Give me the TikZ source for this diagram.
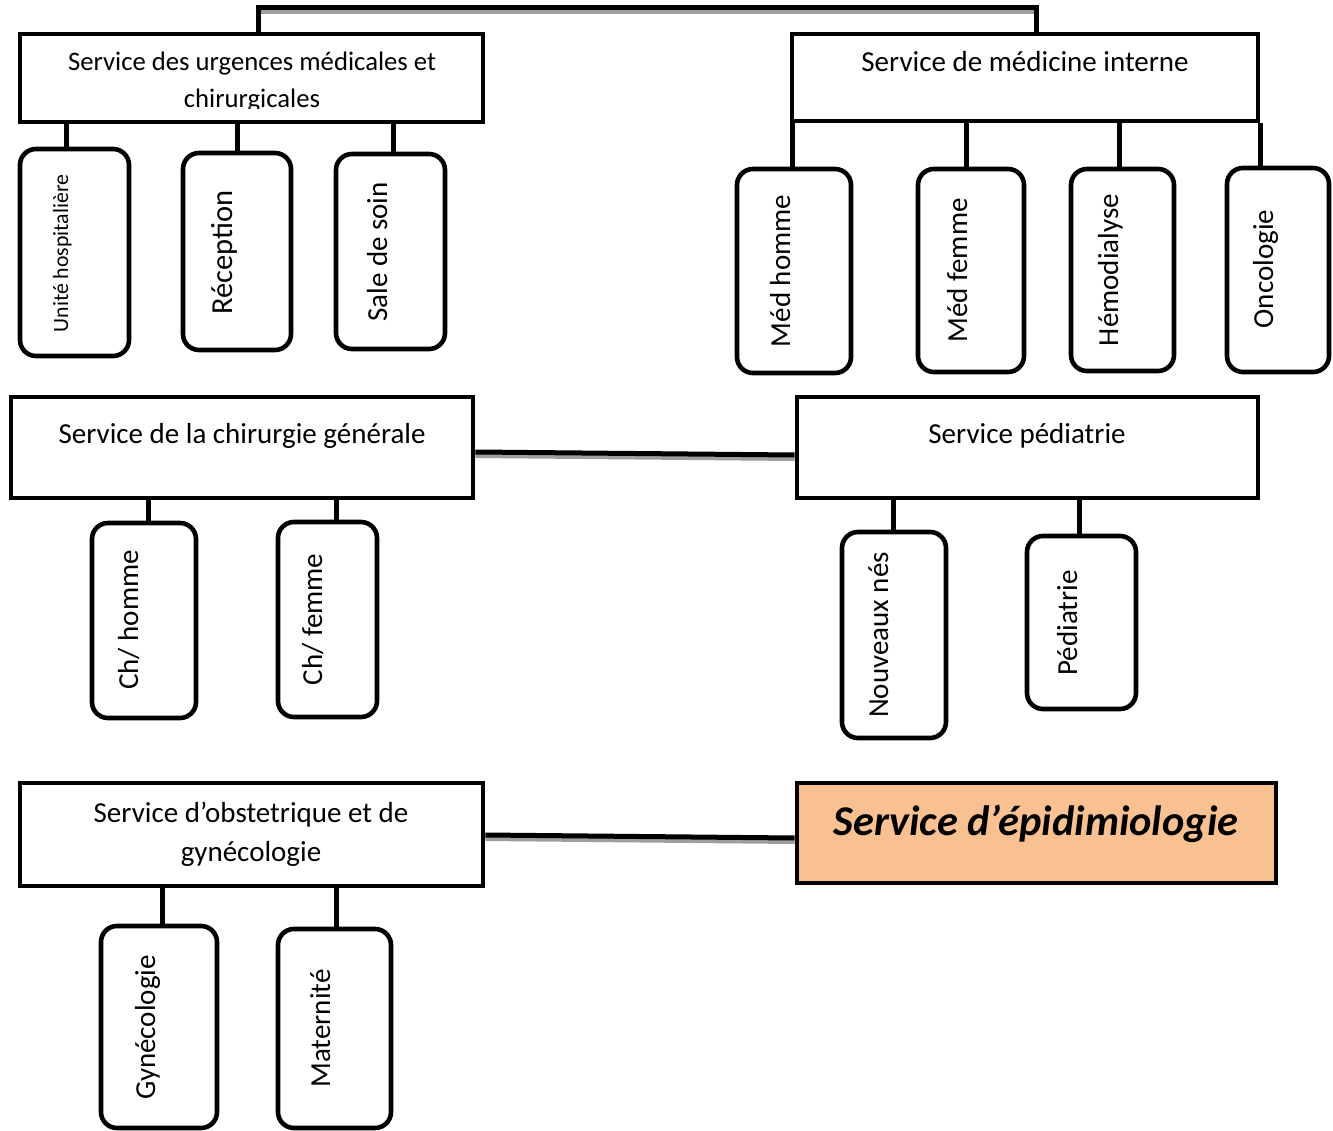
\documentclass[tikz,border=0pt]{standalone}
\usepackage{fontspec}
\setmainfont{Carlito}
\usetikzlibrary{calc}
\definecolor{peach}{RGB}{249,193,145}
\newcommand{\fsz}[1]{\fontsize{#1}{#1}\selectfont}
\begin{document}
\begin{tikzpicture}[x=1pt,y=-1pt,
  box/.style={draw=black, line width=4.6pt, rectangle, inner sep=0pt, fill=white},
  unitbox/.style={draw=black, line width=4.6pt, rectangle, rounded corners=16pt, inner sep=0pt, fill=white},
  conn/.style={line width=5pt, black},
  shadowline/.style={line width=4pt, black!38},
  title/.style={anchor=base, inner sep=0pt, font=\fsz{29}},
  vlabel/.style={anchor=base, rotate=90, inner sep=0pt, font=\fsz{29}},
]
\useasboundingbox[fill=white] (0,0) rectangle (1333,1131);

% ---- main service boxes
\node[box, minimum width=463pt, minimum height=88pt]  (A) at (251.5,78) {};
\node[box, minimum width=466pt, minimum height=87pt]  (B) at (1025,77.5) {};
\node[box, minimum width=462pt, minimum height=101pt] (C) at (242,447.5) {};
\node[box, minimum width=461pt, minimum height=101pt] (D) at (1027.5,447.5) {};
\node[box, minimum width=463pt, minimum height=103pt] (E) at (251.5,834.5) {};
\node[box, fill=peach, minimum width=479pt, minimum height=100pt] (F) at (1036.5,833) {};

% ---- titles
\node[title, font=\fsz{26.7}] (tA1) at (252,71) {Service des urgences médicales et};
\begin{scope}
  \clip (20,34) rectangle (483,109);
  \node[title, font=\fsz{26.7}] (tA2) at (252,108) {chirurgicales};
\end{scope}
\node[title] (tB) at (1025,72) {Service de médicine interne};
\node[title] (tC) at (242,443) {Service de la chirurgie générale};
\node[title] (tD) at (1027,443) {Service pédiatrie};
\node[title] (tE1) at (251,822) {Service d’obstetrique et de};
\node[title] (tE2) at (251,861) {gynécologie};
\node[title, font=\fsz{42.4}\bfseries\itshape] (tF) at (1036,835) {Service d’épidimiologie};

% ---- unit boxes
\node[unitbox, minimum width=109pt, minimum height=207pt] (a1) at (74.5,252.5) {};
\node[unitbox, minimum width=108pt, minimum height=197pt] (a2) at (237,251.5) {};
\node[unitbox, minimum width=109pt, minimum height=195pt] (a3) at (390.5,251.5) {};
\node[unitbox, minimum width=114pt, minimum height=204pt] (b1) at (794,271) {};
\node[unitbox, minimum width=106pt, minimum height=203pt] (b2) at (971,270.5) {};
\node[unitbox, minimum width=103pt, minimum height=202pt] (b3) at (1122.5,270) {};
\node[unitbox, minimum width=102pt, minimum height=204pt] (b4) at (1278,270) {};
\node[unitbox, minimum width=104pt, minimum height=195pt] (c1) at (144,620.5) {};
\node[unitbox, minimum width=99pt,  minimum height=195pt] (c2) at (327.5,619.5) {};
\node[unitbox, minimum width=104pt, minimum height=206pt] (d1) at (894,635) {};
\node[unitbox, minimum width=109pt, minimum height=173pt] (d2) at (1081.5,622.5) {};
\node[unitbox, minimum width=116pt, minimum height=202pt] (e1) at (159,1027) {};
\node[unitbox, minimum width=113pt, minimum height=199pt] (e2) at (334.5,1028.5) {};

% ---- unit labels
\node[vlabel, font=\fsz{21.8}] (la1) at (68,253.5) {Unité hospitalière};
\node[vlabel, font=\fsz{30.5}] (la2) at (232,252.5) {Réception};
\node[vlabel] (la3) at (387,252) {Sale de soin};
\node[vlabel] (lb1) at (790,271) {Méd homme};
\node[vlabel] (lb2) at (967,270.5) {Méd femme};
\node[vlabel] (lb3) at (1118,270) {Hémodialyse};
\node[vlabel] (lb4) at (1273,269) {Oncologie};
\node[vlabel] (lc1) at (138,620) {Ch/ homme};
\node[vlabel] (lc2) at (322,619.5) {Ch/ femme};
\node[vlabel] (ld1) at (888,635) {Nouveaux nés};
\node[vlabel] (ld2) at (1077,623) {Pédiatrie};
\node[vlabel] (le1) at (155,1027.5) {Gynécologie};
\node[vlabel] (le2) at (330,1028.5) {Maternité};

% ---- connector x positions
\coordinate (xa1) at (66,0);
\coordinate (xa2) at (237,0);
\coordinate (xa3) at (393,0);
\coordinate (xb1) at (792,0);
\coordinate (xb2) at (966,0);
\coordinate (xb3) at (1119,0);
\coordinate (xb4) at (1260,0);
\coordinate (xc1) at (148,0);
\coordinate (xc2) at (336,0);
\coordinate (xd1) at (893,0);
\coordinate (xd2) at (1079,0);
\coordinate (xe1) at (162,0);
\coordinate (xe2) at (336,0);

% ---- links between services
\draw[shadowline] ($(A.north)+(8.5,-20)$) -- ($(B.north)+(11,-20)$);
\draw[conn] ($(A.north)+(6.5,0)$) -- ++(0,-24) -| ($(B.north)+(11,0)$);
\draw[shadowline] ($(C.east)+(0,8.5)$) -- ($(D.west)+(0,11.5)$);
\draw[conn] ($(C.east)+(0,4.5)$) -- ($(D.west)+(0,7.5)$);
\draw[shadowline] ($(E.east)+(0,4.5)$) -- ($(F.west)+(0,9)$);
\draw[conn] ($(E.east)+(0,0.5)$) -- ($(F.west)+(0,5)$);

% ---- links to units
\draw[conn] (A.south -| xa1) -- (a1.north -| xa1);
\draw[conn] (A.south -| xa2) -- (a2.north -| xa2);
\draw[conn] (A.south -| xa3) -- (a3.north -| xa3);
\draw[conn] (B.south -| xb1) -- (b1.north -| xb1);
\draw[conn] (B.south -| xb2) -- (b2.north -| xb2);
\draw[conn] (B.south -| xb3) -- (b3.north -| xb3);
\draw[conn] (B.south -| xb4) -- (b4.north -| xb4);
\draw[conn] (C.south -| xc1) -- (c1.north -| xc1);
\draw[conn] (C.south -| xc2) -- (c2.north -| xc2);
\draw[conn] (D.south -| xd1) -- (d1.north -| xd1);
\draw[conn] (D.south -| xd2) -- (d2.north -| xd2);
\draw[conn] (E.south -| xe1) -- (e1.north -| xe1);
\draw[conn] (E.south -| xe2) -- (e2.north -| xe2);
\end{tikzpicture}
\end{document}
